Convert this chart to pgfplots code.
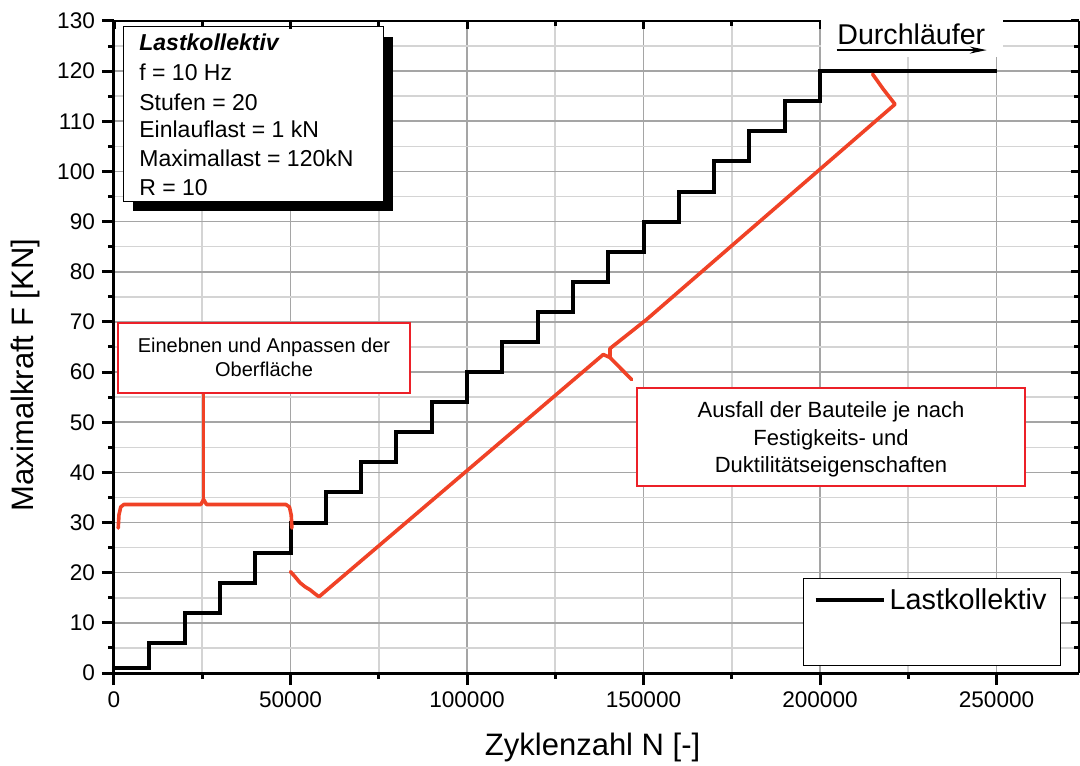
\documentclass[border=0pt]{standalone}
\usepackage{fontspec}
\setmainfont{Liberation Sans}
\usepackage{pgfplots}
\pgfplotsset{compat=1.18}
\usetikzlibrary{arrows.meta}
\definecolor{annred}{RGB}{240,66,38}
\definecolor{boxred}{RGB}{236,32,40}
\definecolor{majgrid}{RGB}{165,165,165}
\definecolor{mingrid}{RGB}{212,212,212}

\begin{document}
\begin{tikzpicture}
\useasboundingbox (-57pt,-46pt) rectangle (483pt,336.5pt);
\begin{axis}[
  at={(0,0)}, anchor=south west,
  width=482.5pt, height=326pt, scale only axis,
  xmin=0, xmax=273371, ymin=0, ymax=130,
  axis lines*=left,
  axis line style={line width=1.5pt},
  xtick={0,50000,...,250000},
  ytick={0,10,...,130},
  minor x tick num=1, minor y tick num=1,
  grid=both,
  major grid style={majgrid, line width=0.8pt},
  minor grid style={mingrid, line width=0.8pt},
  tick align=outside,
  major tick length=6pt, minor tick length=3pt,
  tick style={black, line width=1.5pt},
  scaled x ticks=false,
  x tick label style={/pgf/number format/.cd, fixed, 1000 sep={}},
  /pgf/number format/assume math mode=true,
  ticklabel style={font=\fontsize{11.3}{13}\selectfont},
  xlabel={Zyklenzahl N [-]},
  ylabel={Maximalkraft F [KN]},
  label style={font=\fontsize{15.5}{18}\selectfont},
  xlabel style={at={(axis description cs:0.496,-0.1258)}, anchor=base},
  ylabel style={at={(axis description cs:-0.0839,0.457)}, anchor=base},
  legend style={at={(axis cs:195180,19.0)}, anchor=north west, draw=black,
    line width=0.7pt, fill=white, font=\fontsize{14.4}{16}\selectfont,
    inner xsep=5pt, inner ysep=3pt, cells={anchor=west}},
  legend image code/.code={\draw[#1] (0pt,0pt) -- (34pt,0pt);},
]
\addplot[black, line width=2pt, const plot, line join=miter] coordinates {
(0,1) (10000,6) (20000,12) (30000,18) (40000,24) (50000,30) (60000,36)
(70000,42) (80000,48) (90000,54) (100000,60) (110000,66) (120000,72)
(130000,78) (140000,84) (150000,90) (160000,96) (170000,102) (180000,108)
(190000,114) (200000,120) (250000,120)
};
\addlegendentry{Lastkollektiv}
\addlegendimage{empty legend}
\addlegendentry{\rule{0pt}{16pt}}

% brace
\addplot[annred, line width=1.8pt, line join=round, line cap=round, forget plot] coordinates {
(1200,28.9) (1400,31.5) (1900,33.1) (2800,33.6) (24600,33.6) (25400,34.6)
(26200,33.6) (48700,33.6) (49700,33.1) (50200,31.5) (50400,28.9)
};
\addplot[annred, line width=1.8pt, line cap=round, forget plot] coordinates {
(25400,34.4) (25400,55.9)
};
% failure line
\addplot[annred, line width=1.8pt, line join=round, line cap=round, forget plot] coordinates {
(50000,20.2) (51270,19.2) (52700,18.0) (54100,17.2) (55520,16.6) (56940,15.8)
(58070,15.2) (138600,63.5) (140510,62.9) (146650,58.5)
};
\addplot[annred, line width=1.8pt, line join=round, line cap=round, forget plot] coordinates {
(140510,62.9) (140510,64.7) (150900,70.5) (221250,113.4) (217930,116.4) (214900,119.4)
};

% annotation boxes
\draw[boxred, line width=1pt, fill=white] (axis cs:1133,69.86) rectangle (axis cs:83853,55.89);
\node[font=\fontsize{10}{12}\selectfont, align=center] at (axis cs:42493,62.9)
  {Einebnen und Anpassen der\\Oberfläche};
\draw[boxred, line width=1pt, fill=white] (axis cs:148159,56.9) rectangle (axis cs:258074,37.3);
\node[font=\fontsize{11}{13.75}\selectfont, align=center] at (axis cs:203116,46.5)
  {Ausfall der Bauteile je nach\\Festigkeits- und\\Duktilitätseigenschaften};

% info box
\fill[black] (axis cs:5382,126.9) rectangle (axis cs:79037,92.2);
\draw[black, line width=0.5pt, fill=white] (axis cs:2833,128.9) rectangle (axis cs:76204,94.0);
\begin{scope}[every node/.style={anchor=base west, inner sep=0pt, font=\fontsize{11.5}{14}\selectfont}]
\node at (axis cs:7082,124.2) {\bfseries\itshape Lastkollektiv};
\node at (axis cs:7082,118.2) {f = 10 Hz};
\node at (axis cs:7082,112.2) {Stufen = 20};
\node at (axis cs:7082,106.7) {Einlauflast = 1 kN};
\node at (axis cs:7082,100.9) {Maximallast = 120kN};
\node at (axis cs:7082,95.2) {R = 10};
\end{scope}
\end{axis}

\begin{axis}[
  at={(0,0)}, anchor=south west,
  width=482.5pt, height=326pt, scale only axis,
  xmin=0, xmax=273371, ymin=0, ymax=130,
  axis x line*=top, axis y line*=right,
  axis line style={line width=1.2pt},
  xtick={0,50000,...,250000},
  ytick={0,10,...,130},
  minor x tick num=1, minor y tick num=1,
  xticklabels={}, yticklabels={},
  tick align=inside,
  major tick length=4pt, minor tick length=2.5pt,
  tick style={black, line width=1.5pt},
  clip=false,
]
\fill[white] (axis cs:200400,122.8) rectangle (axis cs:251800,131.4);
\node[anchor=base west, inner sep=0pt, font=\fontsize{14.3}{16}\selectfont] at (axis cs:204815,125.35) {Durchläufer};
\draw[line width=0.7pt, -{Stealth[length=8.5pt, width=3.5pt]}] (axis cs:204730,124.2) -- (axis cs:247220,124.2);
\end{axis}
\end{tikzpicture}
\end{document}
